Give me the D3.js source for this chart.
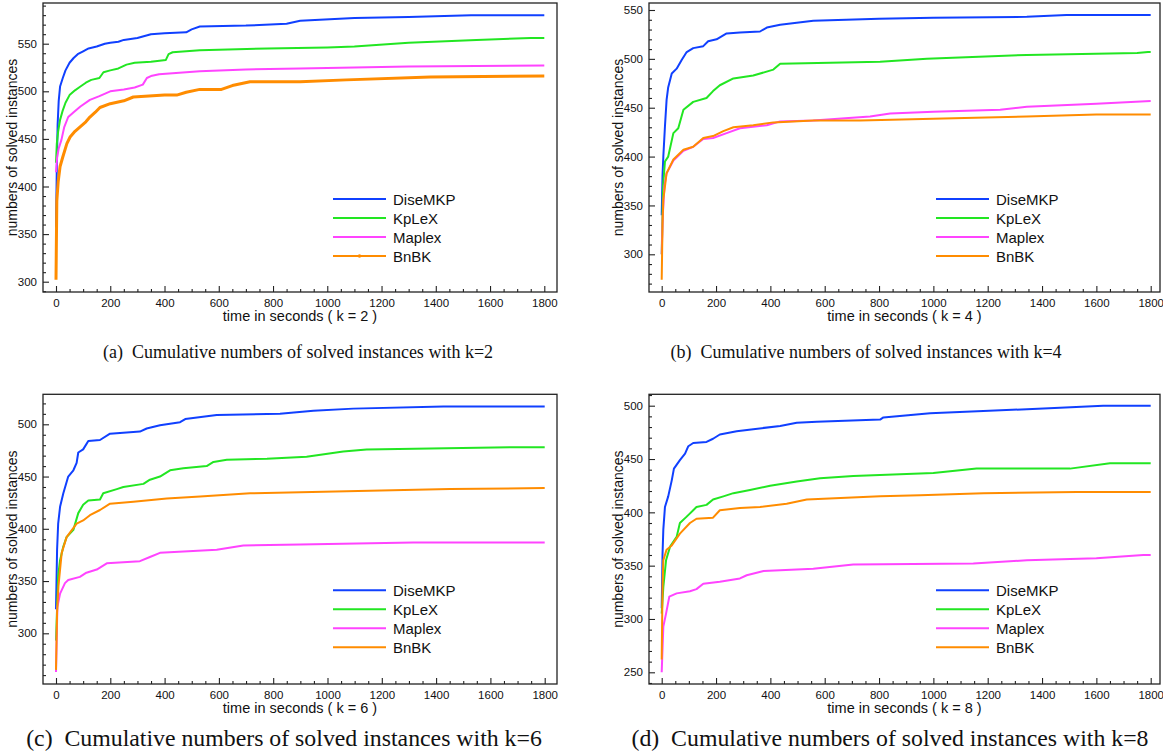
<!DOCTYPE html>
<html>
<head>
<meta charset="utf-8">
<script src="https://cdn.jsdelivr.net/npm/d3@7"></script>
<style>
  body { margin: 0; background: white; }
  text { font-family: "Liberation Sans", Arial, sans-serif; fill: #111; }
  .caption { font-family: "Liberation Serif", "Times New Roman", serif; white-space: pre; }
</style>
</head>
<body>
<div id="main_content"></div>
<script>
var width = 1163, height = 754;

var algorithms = ['DiseMKP', 'KpLeX', 'Maplex', 'BnBK'];
var xTicks = [0, 200, 400, 600, 800, 1000, 1200, 1400, 1600, 1800];

// k = 2   [seconds, solved instances]
var k2_DiseMKP = [[0,357],[3,420],[6,465],[10,490],[15,505],[25,514],[35,522],[50,530],[65,535],[80,539],[100,542],[120,545],[150,547],[180,550],[200,551],[230,552],[250,554],[300,556],[350,560],[400,561],[480,562],[500,565],[530,568],[700,569],[850,571],[900,574],[1100,577],[1300,578],[1530,580],[1800,580]];
var k2_KpLeX = [[0,425],[3,445],[8,458],[15,470],[25,480],[35,488],[50,496],[70,501],[90,505],[110,509],[130,512],[160,514],[175,520],[200,522],[230,524],[260,528],[290,530],[350,531],[405,533],[415,539],[430,541],[530,543],[780,545],[1000,546],[1100,547],[1300,551],[1550,554],[1750,556],[1800,556]];
var k2_Maplex = [[0,415],[4,430],[10,440],[20,449],[30,462],[45,473],[65,478],[90,484],[125,491],[160,495],[200,500],[250,502],[290,504],[320,507],[335,514],[350,516],[380,518],[530,521],[700,523],[900,524],[1300,526],[1800,527]];
var k2_BnBK = [[0,302],[3,385],[8,405],[15,421],[25,431],[40,445],[52,452],[70,458],[90,463],[110,468],[125,473],[145,478],[162,483],[200,487],[250,490],[285,494],[400,496],[445,496],[480,499],[530,502],[610,502],[650,506],[715,510],[900,510],[1070,512],[1380,515],[1800,516]];
var yTicksK2 = [300, 350, 400, 450, 500, 550];

// k = 4
var k4_DiseMKP = [[0,340],[3,380],[6,400],[12,431],[18,458],[24,471],[37,485],[55,490],[74,499],[92,507],[116,511],[153,513],[171,518],[202,520],[239,526],[288,527],[362,528],[387,532],[436,535],[558,539],[800,541],[1000,542],[1344,543],[1490,545],[1800,545]];
var k4_KpLeX = [[0,300],[5,370],[12,395],[24,400],[43,424],[61,429],[80,448],[116,456],[165,460],[189,467],[214,473],[264,480],[337,483],[411,489],[436,495],[804,497],[976,500],[1344,504],[1750,506],[1790,507],[1800,507]];
var k4_Maplex = [[0,300],[4,340],[10,370],[18,383],[43,396],[80,406],[116,410],[153,418],[189,419],[239,424],[288,429],[387,432],[436,436],[558,437],[767,441],[841,444],[1000,446],[1246,448],[1344,451],[1600,454],[1800,457]];
var k4_BnBK = [[0,274],[3,330],[6,356],[18,383],[43,397],[80,407],[116,410],[153,419],[189,421],[227,426],[264,430],[337,432],[411,435],[558,437],[731,437],[1037,439],[1344,441],[1600,443],[1800,443]];
var yTicksK4 = [300, 350, 400, 450, 500, 550];

// k = 6
var k6_DiseMKP = [[0,323],[4,380],[8,405],[15,421],[27,434],[45,450],[64,456],[76,463],[82,473],[100,476],[119,484],[162,485],[199,491],[309,493],[334,496],[383,499],[457,502],[476,505],[592,509],[825,510],[948,513],[1095,515],[1427,517],[1800,517]];
var k6_KpLeX = [[0,293],[8,355],[15,370],[27,383],[39,392],[64,399],[82,415],[100,423],[119,427],[162,428],[174,434],[224,438],[248,440],[322,443],[346,447],[383,450],[420,456],[469,458],[555,460],[580,464],[629,466],[777,467],[923,469],[1058,474],[1144,476],[1672,478],[1800,478]];
var k6_Maplex = [[0,263],[5,325],[15,338],[33,348],[45,351],[88,354],[112,358],[150,361],[187,367],[309,369],[346,373],[383,377],[592,380],[690,384],[899,385],[1316,387],[1800,387]];
var k6_BnBK = [[0,265],[4,320],[9,345],[21,377],[39,392],[76,405],[100,408],[125,413],[162,418],[199,424],[285,426],[408,429],[531,431],[715,434],[1071,436],[1451,438],[1800,439]];
var yTicksK6 = [300, 350, 400, 450, 500];

// k = 8
var k8_DiseMKP = [[0,310],[3,360],[6,384],[12,405],[24,415],[37,430],[45,441],[67,449],[86,455],[98,462],[116,465],[165,466],[189,469],[214,473],[276,476],[337,478],[436,481],[497,484],[571,485],[804,487],[816,489],[988,493],[1184,495],[1466,498],[1625,500],[1800,500]];
var k8_KpLeX = [[0,305],[6,330],[16,355],[31,368],[55,377],[67,390],[92,396],[116,402],[128,405],[165,407],[189,412],[227,415],[264,418],[325,421],[399,425],[497,429],[583,432],[705,434],[1000,437],[1159,441],[1503,441],[1650,446],[1800,446]];
var k8_Maplex = [[0,250],[6,293],[16,305],[28,321],[55,324],[104,326],[128,328],[153,333],[214,335],[288,338],[313,341],[375,345],[558,347],[705,351],[1147,352],[1344,355],[1600,357],[1773,360],[1800,360]];
var k8_BnBK = [[0,262],[3,330],[6,355],[18,365],[37,369],[67,380],[104,390],[128,394],[189,395],[214,402],[288,404],[362,405],[460,408],[534,412],[804,415],[951,416],[1184,418],[1528,419],[1800,419]];
var yTicksK8 = [250, 300, 350, 400, 450, 500];

var captions = [
  '(a)  Cumulative numbers of solved instances with k=2',
  '(b)  Cumulative numbers of solved instances with k=4',
  '(c)  Cumulative numbers of solved instances with k=6',
  '(d)  Cumulative numbers of solved instances with k=8'
];

var colors = ['#1040ff', '#22e622', '#ff44ff', '#ff8c00'];

// layout of each sub figure: frame box, pixel anchors of the scales, caption placement
var panels = [
  { k: 2, series: [k2_DiseMKP, k2_KpLeX, k2_Maplex, k2_BnBK], yTicks: yTicksK2,
    frame: [43, 3, 557, 292], xr: [56, 544.3], yd: [300, 550], yr: [281.7, 43.7],
    cap: [298, 358, 18], thick: true },
  { k: 4, series: [k4_DiseMKP, k4_KpLeX, k4_Maplex, k4_BnBK], yTicks: yTicksK4,
    frame: [649, 3, 1160, 292], xr: [661.7, 1150.7], yd: [300, 550], yr: [254.3, 10],
    cap: [866, 358, 18] },
  { k: 6, series: [k6_DiseMKP, k6_KpLeX, k6_Maplex, k6_BnBK], yTicks: yTicksK6,
    frame: [43, 394.3, 557, 684], xr: [56, 544.7], yd: [300, 500], yr: [633.3, 424.3],
    cap: [284, 746, 23.8] },
  { k: 8, series: [k8_DiseMKP, k8_KpLeX, k8_Maplex, k8_BnBK], yTicks: yTicksK8,
    frame: [649, 394.3, 1160, 684], xr: [661.7, 1150.7], yd: [250, 500], yr: [672.3, 405.7],
    cap: [890, 746, 23.8] }
];

var svg = d3.select('#main_content').append('svg')
  .attr('width', width)
  .attr('height', height)
  .style('background', 'white');

panels.forEach(function(p, pi) {
  var f = p.frame;
  var x = d3.scaleLinear().domain([0, 1800]).range(p.xr);
  var y = d3.scaleLinear().domain(p.yd).range(p.yr);
  var g = svg.append('g');

  // minor ticks first
  var yLo = Math.ceil(y.invert(f[3]) / 10) * 10, yHi = y.invert(f[1]);
  var yMinor = d3.range(yLo, yHi, 10).filter(function(v) { return p.yTicks.indexOf(v) < 0; });
  var xMinor = d3.range(50, 1800, 50).filter(function(v) { return v % 200 !== 0; });

  g.append('g')
    .attr('transform', 'translate(0,' + f[3] + ')')
    .call(d3.axisBottom(x).tickValues(xMinor).tickSize(-3).tickFormat(''));
  g.append('g')
    .attr('transform', 'translate(' + f[0] + ',0)')
    .call(d3.axisLeft(y).tickValues(yMinor).tickSize(-3).tickFormat(''));

  g.append('g')
    .attr('transform', 'translate(0,' + f[3] + ')')
    .call(d3.axisBottom(x).tickValues(xTicks).tickSize(-6).tickPadding(7).tickFormat(d3.format('d')));
  g.append('g')
    .attr('transform', 'translate(' + f[0] + ',0)')
    .call(d3.axisLeft(y).tickValues(p.yTicks).tickSize(-6).tickPadding(6).tickFormat(d3.format('d')));

  g.selectAll('.domain').remove();
  g.selectAll('.tick line').attr('stroke', '#222').attr('stroke-width', 1.1);
  g.selectAll('.tick text')
    .style('font-family', '"Liberation Sans", Arial, sans-serif')
    .style('font-size', '11.5px')
    .attr('fill', '#111');

  // curves
  var line = d3.line()
    .x(function(d) { return x(d[0]); })
    .y(function(d) { return y(d[1]); });

  p.series.forEach(function(s, i) {
    g.append('path')
      .datum(s)
      .attr('fill', 'none')
      .attr('stroke', colors[i])
      .attr('stroke-width', (p.thick && i === 3) ? 3 : 2)
      .attr('stroke-linejoin', 'round')
      .attr('d', line);
  });

  // frame
  g.append('rect')
    .attr('x', f[0]).attr('y', f[1])
    .attr('width', f[2] - f[0]).attr('height', f[3] - f[1])
    .attr('fill', 'none')
    .attr('stroke', '#222')
    .attr('stroke-width', 1.3);

  // axis titles
  g.append('text')
    .attr('x', (f[0] + f[2]) / 2)
    .attr('y', f[3] + 28.5)
    .attr('text-anchor', 'middle')
    .style('font-size', '14.5px')
    .text('time in seconds ( k = ' + p.k + ' )');

  g.append('text')
    .attr('transform', 'translate(' + (f[0] - 26) + ',' + ((f[1] + f[3]) / 2) + ') rotate(-90)')
    .attr('text-anchor', 'middle')
    .style('font-size', '14px')
    .text('numbers of solved instances');

  // legend
  var legend = g.append('g')
    .attr('transform', 'translate(' + (f[2] - 224) + ',' + (f[1] + 196) + ')');
  algorithms.forEach(function(name, i) {
    var row = legend.append('g').attr('transform', 'translate(0,' + (i * 19) + ')');
    row.append('line')
      .attr('x1', 0).attr('x2', 53)
      .attr('stroke', colors[i])
      .attr('stroke-width', 2);
    if (p.thick && i === 3) {
      row.append('circle').attr('cx', 26.5).attr('r', 1.8).attr('fill', colors[i]);
    }
    row.append('text')
      .attr('x', 60)
      .attr('y', 5.5)
      .style('font-size', '15px')
      .text(name);
  });

  // caption
  svg.append('text')
    .attr('class', 'caption')
    .attr('x', p.cap[0])
    .attr('y', p.cap[1])
    .attr('text-anchor', 'middle')
    .style('font-size', p.cap[2] + 'px')
    .text(captions[pi]);
});
</script>
</body>
</html>
